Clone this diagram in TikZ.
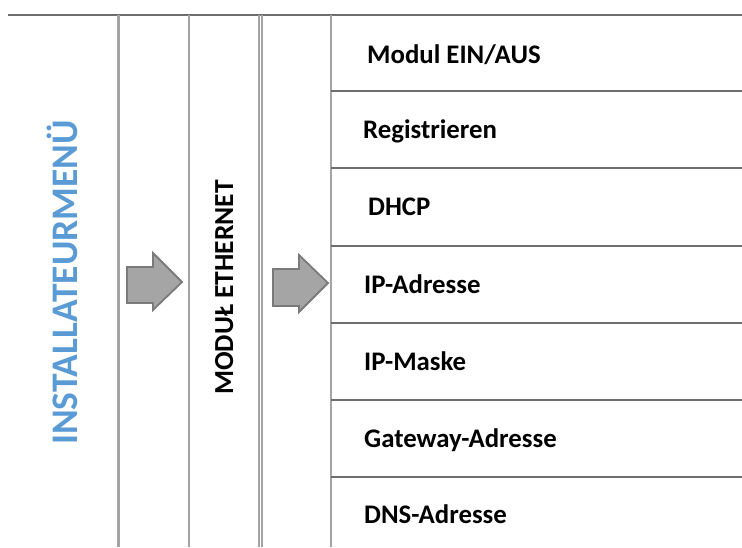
\documentclass[tikz,border=0pt]{standalone}
\usepackage{fontspec}
\setmainfont{Carlito}
\begin{document}
\begin{tikzpicture}[x=1pt,y=-1pt,
  vline/.style={draw=vgray},
  hline/.style={draw=hgray,line width=2pt},
  item/.style={anchor=base west,inner sep=0pt,font=\fontsize{26.8}{30}\selectfont\bfseries},
  garrow/.style={fill=agray,draw=adark,line width=1.8pt,line join=miter}]
\definecolor{vgray}{HTML}{A3A3A3}
\definecolor{hgray}{HTML}{6E6E6E}
\definecolor{agray}{HTML}{A5A5A5}
\definecolor{adark}{HTML}{7A7A7A}
\definecolor{mblue}{HTML}{5B9BD5}
\useasboundingbox (0,0) rectangle (742,547);
\fill[white] (0,0) rectangle (742,547);
% top line
\draw[hline] (8,15) -- (742,15);
% vertical lines
\draw[vline,line width=3pt] (118,15) -- (118,547);
\draw[vline,line width=2pt] (189,15) -- (189,547);
\draw[vline,line width=1.5pt] (259,15) -- (259,547);
\draw[vline,line width=1.5pt] (262,15) -- (262,547);
\draw[vline,line width=2pt] (331,15) -- (331,547);
% right column rows
\foreach \yy in {91,168,246,323,400,477} \draw[hline] (331,\yy) -- (742,\yy);
% arrows
\draw[garrow] (127,267) -- (153,267) -- (153,253) -- (182,282) -- (153,310) -- (153,303) -- (127,303) -- cycle;
\draw[garrow] (273,269) -- (299,269) -- (299,255) -- (328,283) -- (299,312) -- (299,306) -- (273,306) -- cycle;
% vertical titles
\node[anchor=base west,inner sep=0pt,rotate=90,text=mblue,font=\fontsize{37.5}{40}\selectfont\bfseries] (inst) at (77,445) {INSTALLATEURMENÜ};
\node[anchor=base west,inner sep=0pt,rotate=90,font=\fontsize{27.5}{30}\selectfont\bfseries] (eth) at (233,395) {MODUŁ ETHERNET};
% items
\node[item] (m1) at (367,63) {Modul EIN/AUS};
\node[item] (m2) at (363,138) {Registrieren};
\node[item] (m3) at (368,215) {DHCP};
\node[item] (m4) at (364,293) {IP-Adresse};
\node[item] (m5) at (364,370) {IP-Maske};
\node[item] (m6) at (364,447) {Gateway-Adresse};
\node[item] (m7) at (364,523) {DNS-Adresse};
\end{tikzpicture}
\end{document}
